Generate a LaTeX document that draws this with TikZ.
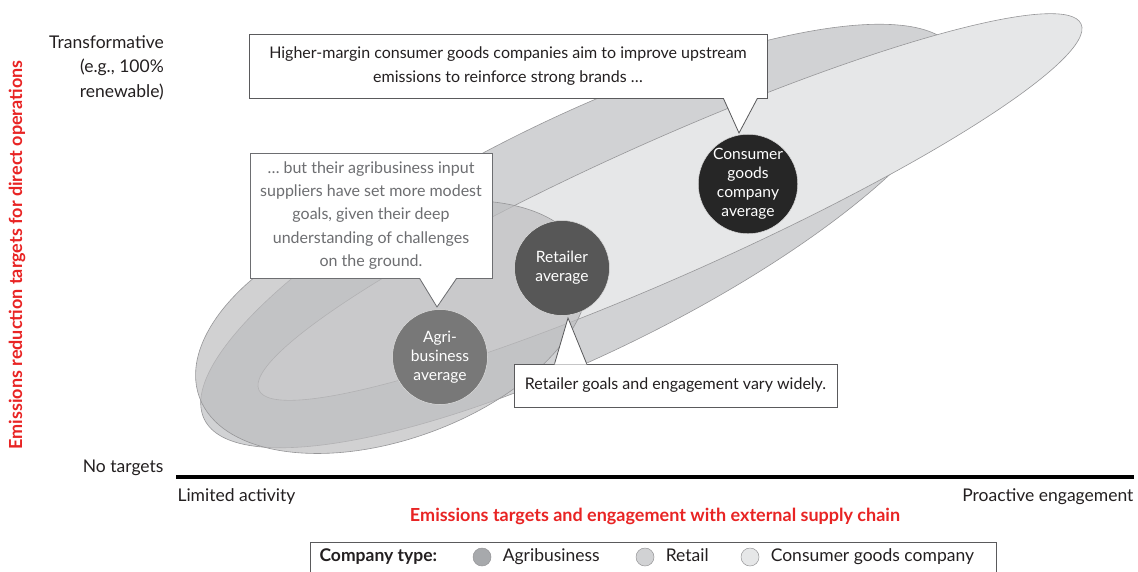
\documentclass[tikz,border=0pt]{standalone}
\usepackage{fontspec}
\setmainfont{Lato}
\usetikzlibrary{positioning, calc}
\definecolor{bainred}{RGB}{232,36,36}
\definecolor{txtgray}{RGB}{35,31,32}
\definecolor{notegray}{RGB}{109,110,113}
\definecolor{agrifill}{RGB}{189,189,191}
\definecolor{agrikey}{RGB}{167,169,172}
\definecolor{retailfill}{RGB}{209,210,212}
\definecolor{cgfill}{RGB}{230,231,232}
\definecolor{edgegray}{RGB}{150,150,152}
\definecolor{boxgray}{RGB}{90,90,92}

\begin{document}
\begin{tikzpicture}[x=1pt, y=-1pt, >=stealth,
  blob/.style={draw=edgegray, line width=0.6pt},
  avg/.style={circle, minimum size=95pt, inner sep=0pt, align=center, text=white, draw=white!75!gray, line width=0.5pt, font=\fontsize{15.6}{19}\selectfont},
  note/.style={draw=boxgray, fill=white, line width=0.8pt, inner sep=2pt, align=center, text=txtgray, font=\fontsize{16}{23.3}\selectfont},
  axislbl/.style={text=txtgray, font=\fontsize{17.5}{24.5}\selectfont},
  axistitle/.style={text=bainred, font=\bfseries\fontsize{18}{20}\selectfont},
  key/.style={circle, minimum size=18pt, inner sep=0pt, draw=edgegray, line width=0.5pt},
  keylbl/.style={axislbl, text height=2.1ex, text depth=0.3ex}]

\useasboundingbox (0,0) rectangle (1138,571);

\draw[blob, fill=retailfill, rotate around={26:(580,236)}] (580,236) ellipse [x radius=418, y radius=118];
\draw[blob, fill=cgfill, rotate around={24:(670,207)}] (670,207) ellipse [x radius=450, y radius=68];
\draw[blob, fill=agrifill, fill opacity=0.7, rotate around={20:(392,327)}] (392,327) ellipse [x radius=205, y radius=112];

\node[avg, fill=black!85] (cgavg) at (748,184) {Consumer\\goods\\company\\average};
\node[avg, fill=black!66] (retavg) at (562,268) {Retailer\\average};
\node[avg, fill=black!53] (agriavg) at (440,357) {Agri-\\business\\average};

\node[note, minimum width=518pt, minimum height=64pt] (cgnote) at (508,66) {Higher-margin consumer goods companies aim to improve upstream\\emissions to reinforce strong brands \dots};
\coordinate (cgtip) at (739,133);
\fill[white] ($(cgnote.south east)+(-44,-1)$) -- (cgtip) -- ($(cgnote.south east)+(-10,-1)$) -- cycle;
\draw[boxgray, line width=0.8pt] ($(cgnote.south east)+(-44,0)$) -- (cgtip) -- ($(cgnote.south east)+(-10,0)$);

\node[note, draw=notegray, text=notegray, minimum width=242pt, minimum height=125pt] (agrinote) at (371,215.5) {\dots{} but their agribusiness input\\suppliers have set more modest\\goals, given their deep\\understanding of challenges\\on the ground.};
\coordinate (agritip) at (437,307);
\fill[white] ($(agrinote.south west)+(170,-1)$) -- (agritip) -- ($(agrinote.south west)+(207,-1)$) -- cycle;
\draw[notegray, line width=0.8pt] ($(agrinote.south west)+(170,0)$) -- (agritip) -- ($(agrinote.south west)+(207,0)$);

\node[note, minimum width=323pt, minimum height=43pt] (retnote) at (675.5,385.5) {Retailer goals and engagement vary widely.};
\coordinate (rettip) at (568,318);
\fill[white] ($(retnote.north west)+(41,1)$) -- (rettip) -- ($(retnote.north west)+(73,1)$) -- cycle;
\draw[boxgray, line width=0.8pt] ($(retnote.north west)+(41,0)$) -- (rettip) -- ($(retnote.north west)+(73,0)$);

\coordinate (xstart) at (176,477);
\coordinate (xend) at (1134,477);
\draw[line width=4pt, black] (xstart) -- (xend);

\node[axislbl, anchor=east] (notgt) at (167,468) {No targets};
\node[axislbl, align=right, anchor=north east, inner sep=0pt] (transf) at (164,35) {Transformative\\(e.g., 100\%\\renewable)};
\node[axislbl, anchor=west] (limited) at (174,497) {Limited activity};
\node[axislbl, anchor=east] (proactive) at (1137,497) {Proactive engagement};
\node[axistitle] (xtitle) at (655,516) {Emissions targets and engagement with external supply chain};
\node[axistitle, rotate=90] (ytitle) at (17,255) {Emissions reduction targets for direct operations};

\draw[boxgray, line width=0.8pt] (310,542) rectangle (996,580);
\node[keylbl, font=\bfseries\fontsize{17.5}{20}\selectfont, anchor=west] (keytitle) at (316,557) {Company type:};
\node[key, fill=agrikey] (keyagri) at (482,557) {};
\node[keylbl, right=8pt of keyagri] (keyagrilbl) {Agribusiness};
\node[key, fill=retailfill] (keyret) at (645,557) {};
\node[keylbl, right=8pt of keyret] (keyretlbl) {Retail};
\node[key, fill=cgfill] (keycg) at (750,557) {};
\node[keylbl, right=8pt of keycg] (keycglbl) {Consumer goods company};

\end{tikzpicture}
\end{document}
